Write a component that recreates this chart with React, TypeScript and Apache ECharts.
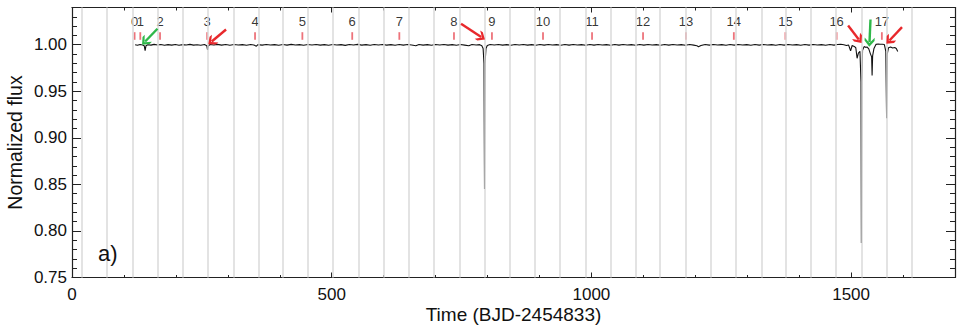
import React, { useEffect, useRef } from "react";
import * as echarts from "echarts";

// Light curve samples (BJD-2454833, normalized flux)
const time = [
  121.5, 126, 131, 136, 139, 140.8, 142.5, 146, 152, 158, 165, 171, 178, 185, 192, 199, 206, 213, 220, 227,
  234, 241, 248, 255, 259.5, 261, 262.5, 266, 273, 280, 288, 296, 304, 312, 320, 328, 336, 344, 350, 355,
  358, 366, 374, 382, 390, 398, 406, 414, 422, 430, 438, 446, 454, 462, 470, 478, 486, 494, 502, 510,
  518, 526, 534, 542, 550, 558, 566, 574, 582, 590, 598, 606, 614, 622, 630, 638, 646, 654, 662, 668,
  676, 684, 692, 700, 708, 716, 724, 732, 740, 748, 756, 764, 770, 778, 785, 789, 791.5, 793.2, 794.2, 795.2,
  797, 799.5, 805, 813, 821, 829, 837, 845, 853, 861, 869, 877, 885, 893, 901, 909, 917, 925, 933, 941,
  949, 957, 965, 973, 981, 989, 997, 1005, 1013, 1021, 1029, 1037, 1045, 1053, 1061, 1069, 1077, 1085, 1093, 1101,
  1109, 1117, 1125, 1133, 1141, 1149, 1157, 1165, 1173, 1181, 1189, 1197, 1203, 1206, 1211, 1219, 1227, 1235, 1243, 1251,
  1259, 1267, 1275, 1283, 1291, 1299, 1307, 1315, 1323, 1331, 1339, 1347, 1355, 1363, 1371, 1379, 1387, 1395, 1403, 1411,
  1419, 1427, 1435, 1443, 1451, 1459, 1467, 1474, 1480, 1486, 1491, 1495, 1499, 1502, 1506, 1509, 1511.5, 1514, 1517, 1519,
  1519.8, 1520.6, 1522, 1525, 1528, 1531, 1534, 1537, 1539.5, 1540.4, 1541.4, 1544, 1548, 1552, 1556, 1560, 1564, 1566.8, 1568.3, 1569.5,
  1572, 1576, 1580, 1584, 1587, 1589.7,
];
const flux = [
  1.0, 0.9995, 1.0003, 0.9998, 0.999, 0.9936, 0.999, 1.0, 0.9996, 1.0004, 0.9997, 1.0002, 0.9994, 1.0001, 0.9996, 1.0003, 0.9995, 1.0001, 0.9997, 1.0004,
  0.9996, 1.0, 0.9995, 1.0002, 0.999, 0.9944, 0.999, 1.0003, 0.9998, 1.0004, 0.9996, 1.0002, 0.9995, 1.0003, 0.9997, 1.0001, 0.9994, 1.0002, 0.9998, 0.9985,
  1.0001, 0.9996, 1.0003, 0.9997, 1.0001, 0.9995, 1.0002, 0.9996, 1.0004, 0.9997, 1.0001, 0.9994, 1.0002, 0.9997, 1.0003, 0.9996, 1.0001, 0.9995, 1.0003, 0.9997,
  1.0001, 0.9993, 1.0002, 0.9997, 1.0004, 0.9996, 1.0001, 0.9995, 1.0002, 0.9997, 1.0003, 0.9996, 1.0001, 0.9995, 1.0002, 0.9996, 1.0003, 0.9997, 0.999, 1.0002,
  0.9996, 1.0001, 0.9995, 1.0002, 0.9997, 1.0003, 0.9996, 1.0001, 0.9994, 1.0002, 0.9996, 0.999, 1.0002, 0.9997, 1.0001, 0.999, 0.996, 0.98, 0.845, 0.98,
  0.996, 0.9992, 1.0002, 0.9997, 1.0003, 0.9996, 1.0001, 0.9995, 1.0002, 0.9997, 1.0003, 0.9996, 1.0001, 0.9995, 1.0002, 0.9996, 1.0003, 0.9997, 1.0001, 0.9995,
  1.0002, 0.9996, 1.0003, 0.9997, 1.0001, 0.9995, 1.0002, 0.9996, 1.0003, 0.9997, 1.0001, 0.9994, 1.0002, 0.9996, 1.0003, 0.9997, 1.0001, 0.9995, 1.0002, 0.9996,
  1.0003, 0.9997, 1.0001, 0.9995, 1.0002, 0.9996, 1.0003, 0.9997, 1.0001, 0.9995, 1.0002, 0.9996, 0.999, 0.9978, 0.9992, 1.0002, 0.9996, 1.0003, 0.9997, 1.0001,
  0.9995, 1.0002, 0.9996, 1.0003, 0.9997, 1.0001, 0.9995, 1.0002, 0.9996, 1.0003, 0.9997, 1.0001, 0.9995, 1.0002, 0.9996, 1.0003, 0.9997, 1.0001, 0.9995, 1.0002,
  0.9996, 1.0003, 0.9997, 1.0001, 0.9995, 1.0002, 0.9996, 1.0003, 1.0005, 1.0, 0.9992, 0.9998, 0.9935, 0.9992, 0.9982, 0.9968, 0.9855, 0.991, 0.993, 0.96,
  0.787, 0.96, 0.994, 0.998, 0.9972, 0.9975, 0.9955, 0.9905, 0.987, 0.967, 0.988, 0.996, 1.0004, 1.0008, 1.0006, 1.0005, 1.0002, 0.993, 0.921, 0.99,
  0.9968, 0.9975, 0.9965, 0.997, 0.996, 0.9928,
];

// Kepler quarter starts
const quarterLabels = ["0", "1", "2", "3", "4", "5", "6", "7", "8", "9", "10", "11", "12", "13", "14", "15", "16", "17"];
const quarterStarts = [120.5, 131.5, 169.5, 260.2, 352.4, 443.5, 539.5, 630.2, 735.4, 808.5, 906.8, 1001.2, 1099.4, 1182.0, 1274.2, 1373.5, 1472.1, 1559.2];

// Gray vertical reference lines (eclipse ephemeris)
const ephemerisTimes = [
  19.2, 67.3, 116.4, 164.5, 213.3, 261.3, 310.5, 358.6, 406.6, 454.7, 502.7, 552.1, 600.7, 648.7, 696.8, 746.2, 794.2,
  842.3, 890.3, 939.7, 988.3, 1036.3, 1084.4, 1132.4, 1181.8, 1229.8, 1277.9, 1327.1, 1375.1, 1423.2, 1471.2, 1520.0, 1569.2, 1617.2,
];

// Hand-drawn annotation arrows
const arrowTails = [[164.5, 1.0172], [296.6, 1.0164], [749, 1.0225], [1494.2, 1.0207], [1537.3, 1.0271], [1598, 1.0189]];
const arrowTips = [[140.9, 1.0035], [269, 1.0035], [787.8, 1.0082], [1514.8, 1.0057], [1535.4, 1.0028], [1573.8, 1.0046]];
const arrowColors = ["#2fb84a", "#e8282c", "#e8282c", "#e8282c", "#2fb84a", "#e8282c"];

const xTicks = [0, 500, 1000, 1500];
const yMin = 0.75;
const yMax = 1.04;
const xMin = 0;
const xMax = 1700;

const FONT = "'Liberation Sans', Arial, Helvetica, sans-serif";

export default function App() {
  const ref = useRef<HTMLDivElement>(null);
  useEffect(() => {
    if (!ref.current) return;
    document.body.style.margin = "0";
    document.body.style.overflow = "hidden";
    const chart = echarts.init(ref.current, undefined, { renderer: "svg" });
    const axisLineStyle = { color: "#222", width: 1.2 };
    const mkX = (position: string, interval: number, len: number, labels: boolean, line: boolean) => ({
      type: "value",
      position,
      min: xMin,
      max: xMax,
      interval,
      axisLine: { show: line, onZero: false, lineStyle: axisLineStyle },
      axisTick: { show: true, inside: true, length: len, lineStyle: { color: "#222", width: 1 } },
      splitLine: { show: false },
      axisLabel: labels
        ? {
            show: true,
            margin: 8,
            fontSize: 17,
            color: "#111",
            fontFamily: FONT,
            showMaxLabel: false,
            formatter: (v: number) => (xTicks.indexOf(v) >= 0 ? String(v) : ""),
          }
        : { show: false },
      name: labels && position === "bottom" ? "Time (BJD-2454833)" : "",
      nameLocation: "middle",
      nameGap: 27,
      nameMoveOverlap: false,
      nameTextStyle: { fontSize: 19, color: "#111", fontFamily: FONT },
    });
    const mkY = (position: string, interval: number, len: number, labels: boolean, line: boolean) => ({
      type: "value",
      position,
      min: yMin,
      max: yMax,
      interval,
      axisLine: { show: line, onZero: false, lineStyle: axisLineStyle },
      axisTick: { show: true, inside: true, length: len, lineStyle: { color: "#222", width: 1 } },
      splitLine: { show: false },
      axisLabel: labels
        ? {
            show: true,
            margin: 5,
            fontSize: 17,
            color: "#111",
            fontFamily: FONT,
            showMaxLabel: false,
            formatter: (v: number) => (Math.abs(v * 20 - Math.round(v * 20)) < 1e-6 ? v.toFixed(2) : ""),
          }
        : { show: false },
      name: labels && position === "left" ? "Normalized flux" : "",
      nameLocation: "middle",
      nameGap: 47,
      nameMoveOverlap: false,
      nameTextStyle: { fontSize: 19.5, color: "#111", fontFamily: FONT },
    });

    const lineData = time.map((t, i) => [t, flux[i]]);
    const quarterData = quarterStarts.map((t, i) => ({ value: [t, 1.0094], name: quarterLabels[i] }));
    const arrowData = arrowTails.map((tail, i) => [
      { coord: tail, lineStyle: { color: arrowColors[i] } },
      { coord: arrowTips[i] },
    ]);

    chart.setOption({
      animation: false,
      backgroundColor: "#fff",
      grid: { left: 72, right: 5, top: 7.5, bottom: 50.5, containLabel: false, outerBoundsMode: "none" },
      xAxis: [
        mkX("bottom", 500, 5, true, true),
        mkX("bottom", 100, 2.5, false, false),
        mkX("top", 500, 5, false, true),
        mkX("top", 100, 3, false, false),
      ],
      yAxis: [
        mkY("left", 0.05, 9, true, true),
        mkY("left", 0.01, 5, false, false),
        mkY("right", 0.05, 9, false, true),
        mkY("right", 0.01, 5, false, false),
      ],
      graphic: [
        {
          type: "text",
          left: 98,
          top: 242,
          z: 100,
          style: { text: "a)", fontSize: 22, fill: "#111", fontFamily: FONT },
        },
      ],
      series: [
        {
          type: "line",
          name: "ephemeris",
          data: [],
          z: 1,
          silent: true,
          markLine: {
            silent: true,
            symbol: ["none", "none"],
            label: { show: false },
            lineStyle: { color: "#dadada", width: 1.5, type: "solid" },
            data: ephemerisTimes.map((t) => ({ xAxis: t })),
          },
        },
        {
          type: "line",
          name: "flux",
          data: lineData,
          z: 3,
          showSymbol: false,
          symbol: "none",
          lineStyle: { color: "#111", width: 1.1 },
          markLine: {
            silent: true,
            symbol: ["none", "path://M5,0 L10,6.5 L10,10 L5,4 L0,10 L0,6.5 Z"],
            symbolSize: [10, 9],
            label: { show: false },
            lineStyle: { width: 2.4, type: "solid" },
            data: arrowData,
          },
        },
        {
          type: "scatter",
          name: "quarters",
          data: quarterData,
          z: 4,
          symbol: "rect",
          symbolSize: [1.8, 7.6],
          itemStyle: { color: "#e8505a" },
          label: {
            show: true,
            position: "top",
            distance: 4,
            formatter: (p: any) => p.name,
            fontSize: 13,
            color: "#000",
            textBorderWidth: 0,
            fontFamily: FONT,
          },
        },
      ],
    });
    return () => chart.dispose();
  }, []);
  return <div ref={ref} style={{ width: 960, height: 328 }} />;
}
